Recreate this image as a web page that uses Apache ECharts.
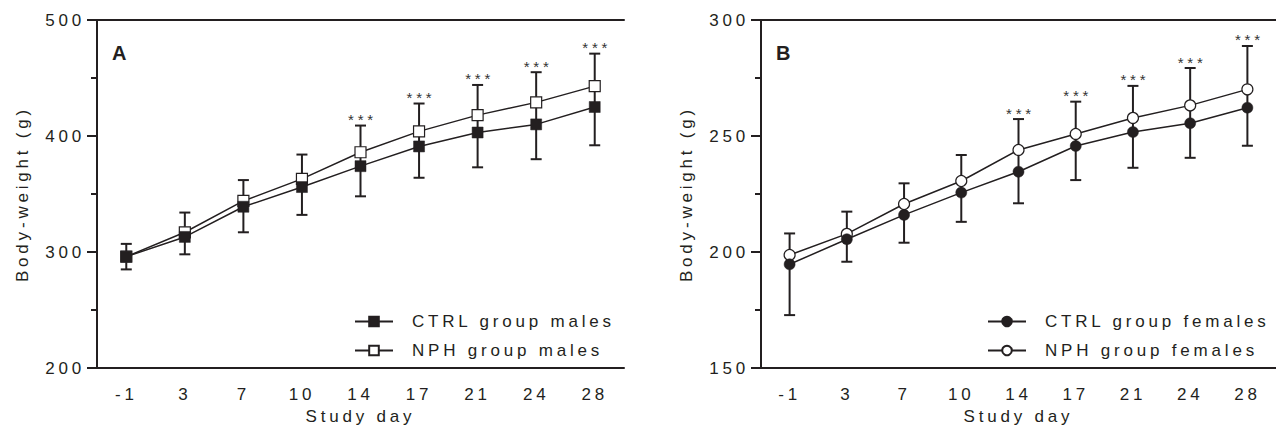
<!DOCTYPE html>
<html>
<head>
<meta charset="utf-8">
<style>
  html, body { margin: 0; padding: 0; background: #fff; }
  #chart { width: 1276px; height: 434px; letter-spacing: 3.8px; }
</style>
<script src="https://cdn.jsdelivr.net/npm/echarts@6/dist/echarts.min.js"></script>
</head>
<body>
<div id="chart"></div>
<script>
// study days (category axis, equal spacing)
var days = ['-1', '3', '7', '10', '14', '17', '21', '24', '28'];

// A: males, mean body weight (g)
var ctrlMales = [296, 313, 339, 356, 374, 391, 403, 410, 425];
var nphMales = [296, 317, 344, 363, 386, 404, 418, 429, 443];
// error bar ends (upper from NPH, lower from CTRL)
var malesUpper = [307, 334, 362, 384, 409, 428, 444, 455, 471];
var malesLower = [285, 298, 317, 332, 348, 364, 373, 380, 392];

// B: females
var ctrlFemales = [194.7, 205.5, 216, 225.6, 234.6, 245.7, 251.7, 255.5, 262.2];
var nphFemales = [198.7, 207.8, 220.7, 230.6, 244, 250.9, 257.8, 263.2, 270.1];
var femalesUpper = [208, 217.4, 229.6, 241.8, 257.3, 264.8, 271.6, 279.3, 288.8];
var femalesLower = [172.8, 195.8, 204, 213, 221, 231, 236.3, 240.6, 245.8];

// significance marks
var stars = ['', '', '', '', '***', '***', '***', '***', '***'];

// y axis ranges / ticks
var malesTicks = [200, 500, 100];
var femalesTicks = [150, 300, 50];

(function() {
    var myChart = echarts.init(document.getElementById('chart'), null, { renderer: 'svg' });
    var ink = '#231f20';
    var font = 'Liberation Sans, Arial, sans-serif';

    // 误差线 + 星号
    function errorBars(upper, lower, gi) {
        return {
            type: 'custom',
            xAxisIndex: gi * 2,
            yAxisIndex: gi,
            z: 1,
            silent: true,
            data: days.map(function(d, i) { return [i, lower[i], upper[i]]; }),
            renderItem: function(params, api) {
                var top = api.coord([api.value(0), api.value(2)]);
                var bot = api.coord([api.value(0), api.value(1)]);
                var w = 5.5;
                var st = { stroke: ink, lineWidth: 2 };
                var children = [
                    { type: 'line', shape: { x1: top[0], y1: top[1], x2: bot[0], y2: bot[1] }, style: st },
                    { type: 'line', shape: { x1: top[0] - w, y1: top[1], x2: top[0] + w, y2: top[1] }, style: st },
                    { type: 'line', shape: { x1: bot[0] - w, y1: bot[1], x2: bot[0] + w, y2: bot[1] }, style: st }
                ];
                if (stars[params.dataIndex]) {
                    children.push({
                        type: 'text',
                        style: {
                            text: stars[params.dataIndex],
                            x: top[0] + 2,
                            y: top[1] + 1.5,
                            align: 'center',
                            verticalAlign: 'bottom',
                            fontSize: 15,
                            fontFamily: font,
                            fill: '#333'
                        }
                    });
                }
                return { type: 'group', children: children };
            }
        };
    }

    function lineSeries(name, data, gi, symbol, filled) {
        return {
            name: name,
            type: 'line',
            xAxisIndex: gi * 2,
            yAxisIndex: gi,
            data: data,
            z: filled ? 4 : 3,
            symbol: symbol,
            symbolSize: 11,
            showAllSymbol: true,
            animation: false,
            lineStyle: { color: ink, width: 1.5 },
            itemStyle: { color: filled ? ink : '#fff', borderColor: ink, borderWidth: filled ? 0.5 : 1.2 }
        };
    }

    function xAxes(gi) {
        return [{
            gridIndex: gi,
            type: 'category',
            data: days,
            boundaryGap: true,
            axisLine: { onZero: false, lineStyle: { color: ink, width: 2 } },
            axisTick: { alignWithLabel: true, length: 9, lineStyle: { color: ink, width: 2 } },
            axisLabel: { color: ink, fontSize: 17, fontFamily: font, margin: 18 },
            name: 'Study day',
            nameLocation: 'middle',
            nameGap: 37,
            nameTextStyle: { color: ink, fontSize: 17, fontFamily: font }
        }, {
            // 上边框线
            gridIndex: gi,
            type: 'category',
            data: days,
            position: 'top',
            axisLine: { onZero: false, lineStyle: { color: ink, width: 2 } },
            axisTick: { show: false },
            axisLabel: { show: false }
        }];
    }

    function yAxis(gi, t) {
        return {
            gridIndex: gi,
            type: 'value',
            min: t[0],
            max: t[1],
            interval: t[2],
            axisLine: { show: true, lineStyle: { color: ink, width: 2 } },
            axisTick: { show: true, length: 10, lineStyle: { color: ink, width: 2 } },
            minorTick: { show: true, splitNumber: 2, length: 6, lineStyle: { color: ink, width: 2 } },
            splitLine: { show: false },
            axisLabel: { color: ink, fontSize: 17, fontFamily: font, margin: 12 },
            name: 'Body-weight (g)',
            nameLocation: 'middle',
            nameGap: 66,
            nameTextStyle: { color: ink, fontSize: 17, fontFamily: font }
        };
    }

    function legend(left, names) {
        return {
            orient: 'vertical',
            left: left,
            top: 308,
            itemWidth: 38,
            itemHeight: 12,
            itemGap: 12,
            data: names,
            textStyle: { color: ink, fontSize: 17, fontFamily: font, padding: [0, 0, 0, 14] }
        };
    }

    var option = {
        animation: false,
        title: [
            { text: 'A', left: 112, top: 43, padding: 0, textStyle: { fontSize: 20, fontWeight: 'bold', color: ink, fontFamily: font } },
            { text: 'B', left: 776, top: 43, padding: 0, textStyle: { fontSize: 20, fontWeight: 'bold', color: ink, fontFamily: font } }
        ],
        grid: [
            { left: 97, top: 20, width: 527, height: 348 },
            { left: 761, top: 20, width: 527, height: 348 }
        ],
        legend: [
            legend(349, ['CTRL group males', 'NPH group males']),
            legend(982, ['CTRL group females', 'NPH group females'])
        ],
        xAxis: xAxes(0).concat(xAxes(1)),
        yAxis: [yAxis(0, malesTicks), yAxis(1, femalesTicks)],
        series: [
            errorBars(malesUpper, malesLower, 0),
            lineSeries('CTRL group males', ctrlMales, 0, 'rect', true),
            lineSeries('NPH group males', nphMales, 0, 'rect', false),
            errorBars(femalesUpper, femalesLower, 1),
            lineSeries('CTRL group females', ctrlFemales, 1, 'circle', true),
            lineSeries('NPH group females', nphFemales, 1, 'circle', false)
        ]
    };
    myChart.setOption(option);
    window.addEventListener('resize', function() {
        myChart.resize();
    });
})();
</script>
</body>
</html>
